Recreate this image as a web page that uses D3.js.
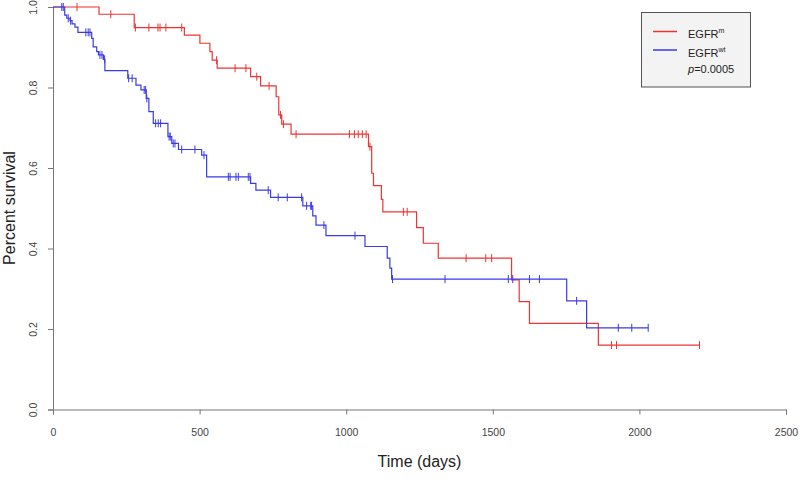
<!DOCTYPE html>
<html>
<head>
<meta charset="utf-8">
<script src="https://cdn.jsdelivr.net/npm/d3@7"></script>
<style>
  body { margin: 0; background: #fff; }
  text { font-family: "Liberation Sans", Arial, sans-serif; }
</style>
</head>
<body>
<div id="my_dataviz"></div>
<script>
// tick labels
var xTicks = [0, 500, 1000, 1500, 2000, 2500];
var yTicks = [0, 0.2, 0.4, 0.6, 0.8, 1.0];

// EGFR mutant: event times and survival after each drop, censored times
var redTimes = [157, 277, 448, 501, 535, 543, 560, 674, 708, 761, 770, 780, 812,
                1076, 1087, 1093, 1120, 1125, 1240, 1263, 1314, 1564, 1590, 1625, 1860];
var redSurv  = [0.982, 0.949, 0.930, 0.910, 0.889, 0.868, 0.848, 0.827, 0.804, 0.777, 0.732, 0.709, 0.684,
                0.653, 0.587, 0.556, 0.522, 0.491, 0.452, 0.413, 0.376, 0.322, 0.268, 0.214, 0.160];
var redCensor = [82, 197, 281, 327, 358, 365, 385, 439, 558, 621, 658, 695, 737, 776, 786, 829,
                 1011, 1028, 1041, 1055, 1068, 1081, 1195, 1208, 1409, 1476, 1496, 1905, 1922, 2205];

// EGFR wild type
var blueTimes = [40, 47, 58, 65, 75, 85, 132, 137, 149, 155, 172, 177, 255, 283, 300, 318, 327, 342,
                 392, 405, 428, 507, 524, 674, 692, 742, 852, 886, 897, 931, 1064, 1140, 1149, 1155, 1752, 1820];
var blueSurv  = [0.980, 0.972, 0.966, 0.958, 0.950, 0.937, 0.922, 0.901, 0.889, 0.881, 0.870, 0.842, 0.823,
                 0.806, 0.794, 0.773, 0.740, 0.711, 0.678, 0.661, 0.646, 0.632, 0.578, 0.562, 0.545, 0.527,
                 0.506, 0.481, 0.458, 0.432, 0.405, 0.376, 0.351, 0.324, 0.270, 0.203];
var blueCensor = [30, 35, 52, 60, 112, 120, 126, 160, 167, 176, 258, 270, 311, 316, 320, 350, 359, 367,
                  396, 400, 410, 416, 439, 484, 515, 598, 604, 624, 632, 666, 672, 734, 768, 799, 848,
                  865, 879, 882, 924, 1030, 1158, 1337, 1553, 1568, 1625, 1659, 1786, 1928, 1974, 2030];

var width = 800, height = 482;

var svg = d3.select("#my_dataviz")
  .append("svg")
    .attr("width", width)
    .attr("height", height);

var x = d3.scaleLinear().domain([0, 2500]).range([53, 786]);
var y = d3.scaleLinear().domain([0, 1]).range([409.5, 7]);

// X axis
var gx = svg.append("g")
  .attr("transform", "translate(0," + 409.5 + ")")
  .call(d3.axisBottom(x).tickValues(xTicks).tickSizeOuter(0).tickSize(5).tickPadding(14).tickFormat(d3.format("d")));
gx.select(".domain").attr("stroke", "#777");
gx.selectAll(".tick line").attr("stroke", "#777");
gx.selectAll(".tick text").attr("fill", "#444").style("font-size", "10.5px");

// Y axis with rotated labels, R style
var gy = svg.append("g")
  .attr("transform", "translate(" + 53 + ",0)")
  .call(d3.axisLeft(y).tickValues(yTicks).tickSizeOuter(0).tickSize(5).tickFormat(d3.format(".1f")));
gy.select(".domain").attr("stroke", "#777");
gy.selectAll(".tick line").attr("stroke", "#777");
gy.selectAll(".tick text")
  .attr("fill", "#444")
  .style("font-size", "10.5px")
  .attr("x", null).attr("dy", null)
  .attr("text-anchor", "middle")
  .attr("transform", "translate(-16,0) rotate(-90)");

// axis titles
svg.append("text")
  .attr("x", (53 + 786) / 2)
  .attr("y", 467)
  .attr("text-anchor", "middle")
  .style("font-size", "16px")
  .attr("fill", "#222")
  .text("Time (days)");

svg.append("text")
  .attr("transform", "translate(15," + 208 + ") rotate(-90)")
  .attr("text-anchor", "middle")
  .style("font-size", "16px")
  .attr("fill", "#222")
  .text("Percent survival");

function survAt(times, surv, t) {
  var s = 1;
  for (var i = 0; i < times.length; i++) { if (times[i] <= t) s = surv[i]; }
  return s;
}

function drawCurve(times, surv, censor, color) {
  var pts = [[0, 1]];
  times.forEach(function(t, i) { pts.push([t, surv[i]]); });
  var last = d3.max(censor.concat(times));
  pts.push([last, survAt(times, surv, last)]);

  svg.append("path")
    .datum(pts)
    .attr("fill", "none")
    .attr("stroke", color)
    .attr("stroke-width", 1.2)
    .attr("d", d3.line()
      .x(function(d) { return x(d[0]); })
      .y(function(d) { return y(d[1]); })
      .curve(d3.curveStepAfter));

  svg.append("g").selectAll("line")
    .data(censor)
    .enter().append("line")
      .attr("x1", function(d) { return x(d); })
      .attr("x2", function(d) { return x(d); })
      .attr("y1", function(d) { return y(survAt(times, surv, d)) - 4; })
      .attr("y2", function(d) { return y(survAt(times, surv, d)) + 4; })
      .attr("stroke", color)
      .attr("stroke-width", 1);
}

drawCurve(redTimes, redSurv, redCensor, "#ee3333");
drawCurve(blueTimes, blueSurv, blueCensor, "#3a3ae6");

// legend
var lg = svg.append("g");
lg.append("rect")
  .attr("x", 641.5).attr("y", 12.5)
  .attr("width", 109).attr("height", 74.5)
  .attr("fill", "#f3f3f3")
  .attr("stroke", "#555");
lg.append("line").attr("x1", 653).attr("x2", 677).attr("y1", 31.5).attr("y2", 31.5)
  .attr("stroke", "#ee3333").attr("stroke-width", 1.5);
lg.append("line").attr("x1", 653).attr("x2", 677).attr("y1", 50).attr("y2", 50)
  .attr("stroke", "#3a3ae6").attr("stroke-width", 1.5);

var t1 = lg.append("text").attr("x", 688).attr("y", 38).style("font-size", "11px").attr("fill", "#222");
t1.append("tspan").text("EGFR");
t1.append("tspan").attr("dy", -5).style("font-size", "7px").text("m");

var t2 = lg.append("text").attr("x", 688).attr("y", 57).style("font-size", "11px").attr("fill", "#222");
t2.append("tspan").text("EGFR");
t2.append("tspan").attr("dy", -5).style("font-size", "7px").text("wt");

var t3 = lg.append("text").attr("x", 688).attr("y", 73).style("font-size", "11px").attr("fill", "#222");
t3.append("tspan").style("font-style", "italic").text("p");
t3.append("tspan").text("=0.0005");
</script>
</body>
</html>
